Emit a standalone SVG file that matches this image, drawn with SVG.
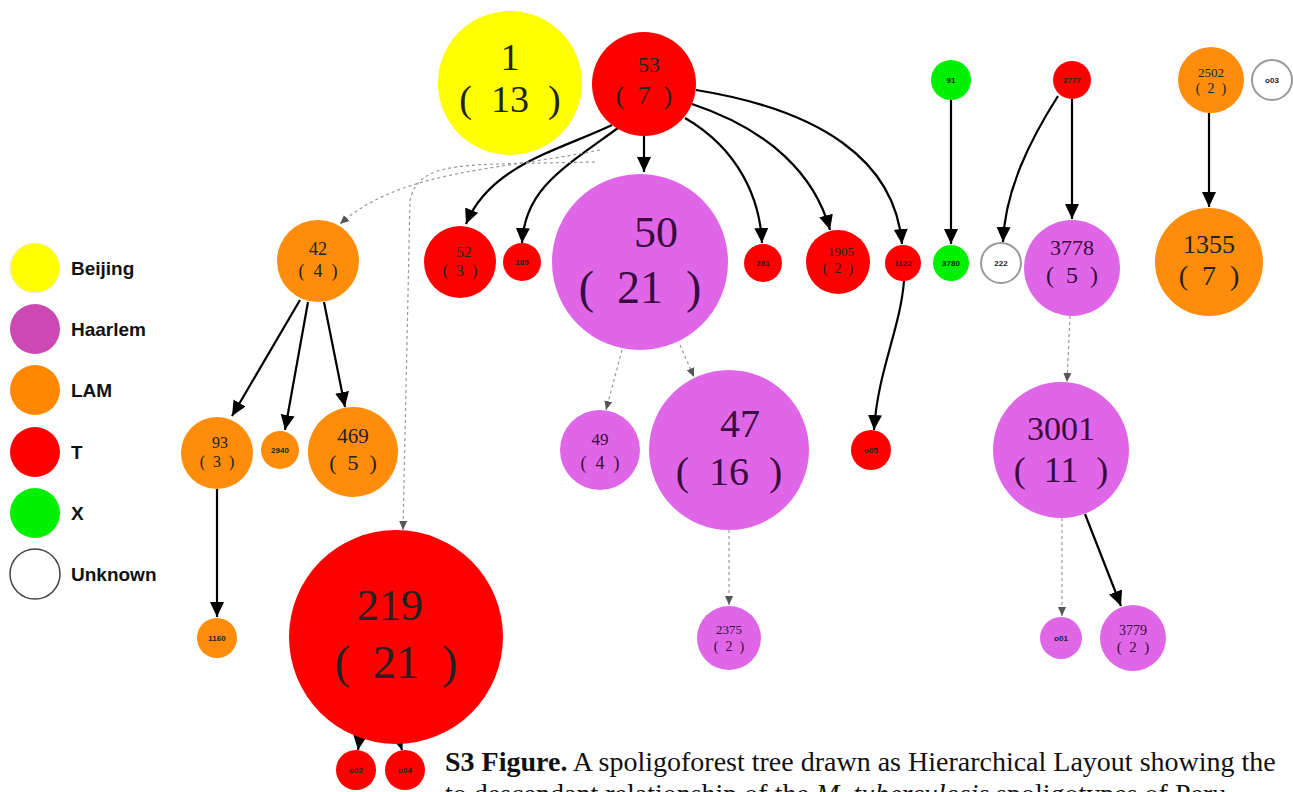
<svg xmlns="http://www.w3.org/2000/svg" width="1293" height="792" viewBox="0 0 1293 792">
<style>
.t{fill:#ff0000}.y{fill:#ffff00}.p{fill:#e066e8}.o{fill:#ff8c0a}.g{fill:#00f000}.u{fill:#fff;stroke:#999;stroke-width:2}
.n{font-family:"Liberation Serif",serif;text-anchor:middle;fill:#222;white-space:pre}
.np{font-family:"Liberation Serif",serif;text-anchor:middle;fill:#3a0a40;white-space:pre}
.s{font-family:"Liberation Sans",sans-serif;font-size:8px;text-anchor:middle;fill:#222;font-weight:bold}
.e{fill:none;stroke:#000;stroke-width:2.2;marker-end:url(#ah)}
.d{fill:none;stroke:#999;stroke-width:1.2;stroke-dasharray:3 3;marker-end:url(#ad)}
.lg{font-family:"Liberation Sans",sans-serif;font-size:19px;font-weight:bold;fill:#111}
.cap{font-family:"Liberation Serif",serif;font-size:28px;fill:#111}
</style>
<defs>
<marker id="ah" markerUnits="userSpaceOnUse" markerWidth="16" markerHeight="16" viewBox="0 0 16 16" refX="15" refY="8" orient="auto"><path d="M0,1 L15,8 L0,15 Z" fill="#000"/></marker>
<marker id="ad" markerUnits="userSpaceOnUse" markerWidth="10" markerHeight="10" viewBox="0 0 10 10" refX="9" refY="5" orient="auto"><path d="M0,1 L9,5 L0,9 Z" fill="#555"/></marker>
</defs>
<rect width="1293" height="792" fill="#fff"/>
<g id="legend">
<circle cx="35" cy="268" r="25" fill="#ffff00" stroke="#eee"/><text class="lg" x="71" y="275">Beijing</text>
<circle cx="35" cy="329" r="25" fill="#cc48b3"/><text class="lg" x="71" y="336">Haarlem</text>
<circle cx="35" cy="390" r="25" fill="#ff8800"/><text class="lg" x="71" y="397">LAM</text>
<circle cx="35" cy="452" r="25" fill="#ff0000"/><text class="lg" x="71" y="459">T</text>
<circle cx="35" cy="513" r="25" fill="#00f000"/><text class="lg" x="71" y="520">X</text>
<circle cx="35" cy="574" r="25" fill="#fff" stroke="#444" stroke-width="1.5"/><text class="lg" x="71" y="581">Unknown</text>
</g>
<g id="connectors">
<path class="e" d="M612,125 C560,150 490,165 466,224"/>
<path class="e" d="M618,128 C560,170 525,190 522,243"/>
<path class="e" d="M644,136 L644,172"/>
<path class="e" d="M685,118 C740,150 760,200 762,243"/>
<path class="e" d="M692,104 C770,130 815,175 830,230"/>
<path class="e" d="M696,90 C820,110 895,160 902,244"/>
<path class="d" d="M600,150 C500,170 400,170 340,224"/>
<path class="d" d="M595,162 C460,165 420,160 410,200 L403,530"/>
<path class="e" d="M951,100 L951,244"/>
<path class="e" d="M1058,96 C1030,140 1005,190 1003,242"/>
<path class="e" d="M1072,99 L1072,219"/>
<path class="e" d="M1209,113 L1209,207"/>
<path class="e" d="M300,300 L232,416"/>
<path class="e" d="M308,302 L285,430"/>
<path class="e" d="M324,302 L345,407"/>
<path class="e" d="M217,489 L217,617"/>
<path class="d" d="M622,350 L606,410"/>
<path class="d" d="M680,345 L694,377"/>
<path class="d" d="M729,530 L729,605"/>
<path class="e" d="M904,281 C900,330 878,370 874,430"/>
<path class="d" d="M1070,316 L1067,382"/>
<path class="d" d="M1062,518 L1062,616"/>
<path class="e" d="M1085,514 L1121,606"/>
<path class="e" d="M360,736 L358,750"/>
<path class="e" d="M398,737 L402,750"/>
</g>
<g id="n1"><circle class="y" cx="510" cy="83" r="72"/><text class="n" x="510" y="70" font-size="38">1</text><text class="n" x="510" y="112" font-size="38">(  13  )</text></g>
<g id="n53"><circle class="t" cx="644" cy="84" r="52"/><text class="n" x="649" y="72" font-size="22">53</text><text class="n" x="644" y="104" font-size="26">(  7  )</text></g>
<g id="n50"><circle class="p" cx="640" cy="262" r="88"/><text class="np" x="656" y="247" font-size="44">50</text><text class="np" x="640" y="303" font-size="46">(  21  )</text></g>
<g id="n52"><circle class="t" cx="460" cy="262" r="36"/><text class="n" x="464" y="257" font-size="15">52</text><text class="n" x="460" y="276" font-size="16">(  3  )</text></g>
<g id="n189"><circle class="t" cx="522" cy="262" r="19"/><text class="s" x="522" y="265">189</text></g>
<g id="n281"><circle class="t" cx="763" cy="263" r="19"/><text class="s" x="763" y="266">281</text></g>
<g id="n1905"><circle class="t" cx="838" cy="262" r="32"/><text class="n" x="841" y="256" font-size="13">1905</text><text class="n" x="838" y="273" font-size="14">(  2  )</text></g>
<g id="n1122"><circle class="t" cx="903" cy="263" r="18"/><text class="s" x="903" y="266">1122</text></g>
<g id="n3780"><circle class="g" cx="951" cy="263" r="18"/><text class="s" x="951" y="266">3780</text></g>
<g id="n222"><circle class="u" cx="1001" cy="263" r="20" stroke="#bbb"/><text class="s" x="1001" y="266">222</text></g>
<g id="n3778"><circle class="p" cx="1072" cy="268" r="48"/><text class="np" x="1072" y="255" font-size="22">3778</text><text class="np" x="1072" y="283" font-size="24">(  5  )</text></g>
<g id="n91"><circle class="g" cx="951" cy="80" r="20"/><text class="s" x="951" y="83">91</text></g>
<g id="n2777"><circle class="t" cx="1072" cy="80" r="19"/><text class="s" x="1072" y="83">2777</text></g>
<g id="n2502"><circle class="o" cx="1211" cy="80" r="33"/><text class="n" x="1211" y="77" font-size="13">2502</text><text class="n" x="1211" y="93" font-size="14">(  2  )</text></g>
<g id="no03"><circle class="u" cx="1272" cy="80" r="20"/><text class="s" x="1272" y="83">o03</text></g>
<g id="n1355"><circle class="o" cx="1209" cy="262" r="54"/><text class="n" x="1209" y="253" font-size="26">1355</text><text class="n" x="1209" y="285" font-size="28">(  7  )</text></g>
<g id="n42"><circle class="o" cx="318" cy="261" r="41"/><text class="n" x="318" y="255" font-size="18">42</text><text class="n" x="318" y="277" font-size="18">(  4  )</text></g>
<g id="n93"><circle class="o" cx="217" cy="453" r="36"/><text class="n" x="220" y="448" font-size="16">93</text><text class="n" x="217" y="467" font-size="16">(  3  )</text></g>
<g id="n2940"><circle class="o" cx="280" cy="450" r="19"/><text class="s" x="280" y="453">2940</text></g>
<g id="n469"><circle class="o" cx="353" cy="452" r="45"/><text class="n" x="353" y="443" font-size="21">469</text><text class="n" x="353" y="470" font-size="22">(  5  )</text></g>
<g id="n1160"><circle class="o" cx="217" cy="638" r="20"/><text class="s" x="217" y="641">1160</text></g>
<g id="n219"><circle class="t" cx="396" cy="637" r="107"/><text class="n" x="390" y="620" font-size="44">219</text><text class="n" x="396" y="678" font-size="46">(  21  )</text></g>
<g id="no02"><circle class="t" cx="356" cy="770" r="20"/><text class="s" x="356" y="773">o02</text></g>
<g id="no04"><circle class="t" cx="405" cy="770" r="20"/><text class="s" x="405" y="773">o04</text></g>
<g id="n49"><circle class="p" cx="600" cy="450" r="40"/><text class="np" x="600" y="445" font-size="17">49</text><text class="np" x="600" y="469" font-size="18">(  4  )</text></g>
<g id="n47"><circle class="p" cx="729" cy="450" r="80"/><text class="np" x="740" y="437" font-size="40">47</text><text class="np" x="729" y="485" font-size="40">(  16  )</text></g>
<g id="no05"><circle class="t" cx="871" cy="450" r="20"/><text class="s" x="871" y="453">o05</text></g>
<g id="n3001"><circle class="p" cx="1061" cy="450" r="68"/><text class="np" x="1061" y="440" font-size="34">3001</text><text class="np" x="1061" y="482" font-size="36">(  11  )</text></g>
<g id="n2375"><circle class="p" cx="729" cy="638" r="32"/><text class="np" x="729" y="634" font-size="13">2375</text><text class="np" x="729" y="651" font-size="14">(  2  )</text></g>
<g id="no01"><circle class="p" cx="1061" cy="638" r="21"/><text class="s" x="1061" y="641">o01</text></g>
<g id="n3779"><circle class="p" cx="1133" cy="638" r="33"/><text class="np" x="1133" y="635" font-size="14">3779</text><text class="np" x="1133" y="652" font-size="15">(  2  )</text></g>
<g id="caption">
<text class="cap" x="445" y="771"><tspan font-weight="bold">S3 Figure.</tspan> A spoligoforest tree drawn as Hierarchical Layout showing the</text>
<text class="cap" x="445" y="803">to descendant relationship of the <tspan font-style="italic">M. tuberculosis</tspan> spoligotypes of Peru</text>
</g>
</svg>
